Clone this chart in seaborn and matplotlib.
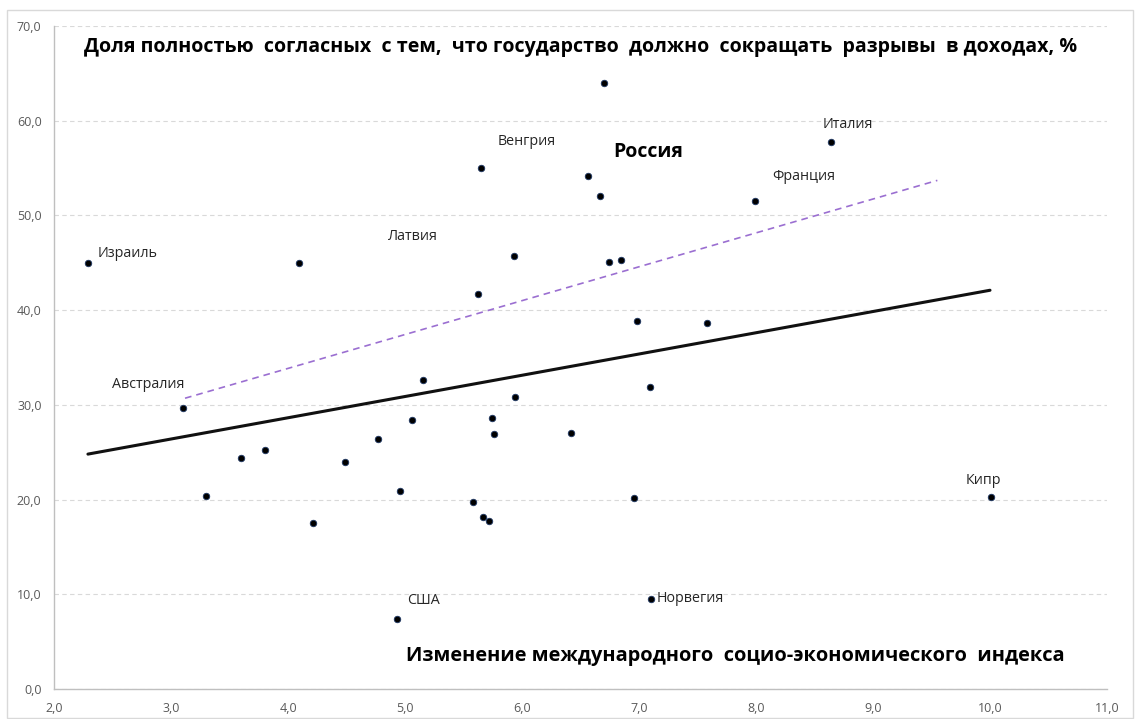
import numpy as np
import pandas as pd
import matplotlib
matplotlib.use('Agg')
import matplotlib.pyplot as plt
import seaborn as sns
from matplotlib.ticker import FuncFormatter
from matplotlib.patches import Rectangle

# Данные: изменение индекса (x) и доля согласных, % (y)
index_change = [2.29, 4.09, 3.10, 3.30, 3.60, 3.80, 4.21, 4.49, 4.77, 4.93,
                4.96, 5.06, 5.15, 5.62, 5.58, 5.67, 5.72, 5.74, 5.76, 5.94,
                6.42, 6.96, 6.98, 7.09, 7.10, 7.58, 10.01, 6.70, 5.65, 6.56,
                6.67, 7.99, 5.93, 6.74, 6.85, 8.64]
agree_share = [45.0, 45.0, 29.7, 20.4, 24.4, 25.2, 17.5, 24.0, 26.4, 7.4,
               20.9, 28.4, 32.6, 41.7, 19.7, 18.2, 17.7, 28.6, 26.9, 30.8,
               27.0, 20.2, 38.9, 31.9, 9.5, 38.6, 20.3, 64.0, 55.0, 54.2,
               52.0, 51.5, 45.7, 45.1, 45.3, 57.8]

# линии тренда — концы
trend1_x = [2.29, 10.0]
trend1_y = [24.8, 42.1]
trend2_x = [3.12, 9.55]
trend2_y = [30.7, 53.7]

# подписи стран
country_names = ['Израиль', 'Латвия', 'Венгрия', 'Россия', 'Франция',
                 'Италия', 'Австралия', 'США', 'Норвегия', 'Кипр']

title_text = 'Доля полностью  согласных  с тем,  что государство  должно  сокращать  разрывы  в доходах, %'
xlabel_text = 'Изменение международного  социо-экономического  индекса'

df = pd.DataFrame({'x': index_change, 'y': agree_share})

# положения подписей (в координатах данных)
label_pos = {
    'Израиль': (2.37, 46.0), 'Латвия': (4.85, 47.8), 'Венгрия': (5.79, 57.8),
    'Россия': (6.78, 56.7), 'Франция': (8.14, 54.1), 'Италия': (8.57, 59.6),
    'Австралия': (2.50, 32.2), 'США': (5.02, 9.3), 'Норвегия': (7.15, 9.6),
    'Кипр': (9.79, 22.0),
}

sns.set_theme(style='white')
plt.rcParams['font.family'] = ['Open Sans', 'DejaVu Sans']

fig = plt.figure(figsize=(11.36, 7.19), dpi=100)
ax = fig.add_axes([54 / 1136, 30 / 719, (1107 - 54) / 1136, (689 - 26) / 719])

# рамка диаграммы
fig.patches.append(Rectangle((7 / 1136, 1 / 719), 1126 / 1136, 708 / 719,
                             transform=fig.transFigure, fill=False,
                             edgecolor='#d9d9d9', lw=1))

ax.yaxis.grid(True, color='#d9d9d9', linestyle=(0, (4, 3)), lw=0.8)
ax.set_axisbelow(True)

sns.lineplot(x=trend1_x, y=trend1_y, ax=ax, color='#111111', lw=2.2)
sns.lineplot(x=trend2_x, y=trend2_y, ax=ax, color='#9b6fd1', lw=1.2,
             linestyle=(0, (4, 3)))
sns.scatterplot(data=df, x='x', y='y', ax=ax, color='black', s=22,
                edgecolor='#1f3864', linewidth=0.6, zorder=5)

for name in country_names:
    tx, ty = label_pos[name]
    if name == 'Россия':
        ax.text(tx, ty, name, fontsize=14, fontweight='bold', color='black',
                va='center', ha='left')
    else:
        ax.text(tx, ty, name, fontsize=10.3, color='#262626', va='center', ha='left')

ax.text(6.50, 67.8, title_text, fontsize=14.1, fontweight='bold', color='black',
        ha='center', va='center')
ax.text(7.82, 3.5, xlabel_text, fontsize=14.4, fontweight='bold', color='black',
        ha='center', va='center')

ax.set_xlim(2, 11)
ax.set_ylim(0, 70)
ax.set_xticks(np.arange(2, 12, 1))
ax.set_yticks(np.arange(0, 80, 10))
fmt = FuncFormatter(lambda v, p: f'{v:.1f}'.replace('.', ','))
ax.xaxis.set_major_formatter(fmt)
ax.yaxis.set_major_formatter(fmt)
ax.tick_params(axis='both', length=0, labelsize=9, labelcolor='#595959', pad=9)
ax.set_xlabel('')
ax.set_ylabel('')

for side in ['top', 'right']:
    ax.spines[side].set_visible(False)
for side in ['left', 'bottom']:
    ax.spines[side].set_color('#bfbfbf')
    ax.spines[side].set_linewidth(1)

fig.savefig('out.png', dpi=100)
